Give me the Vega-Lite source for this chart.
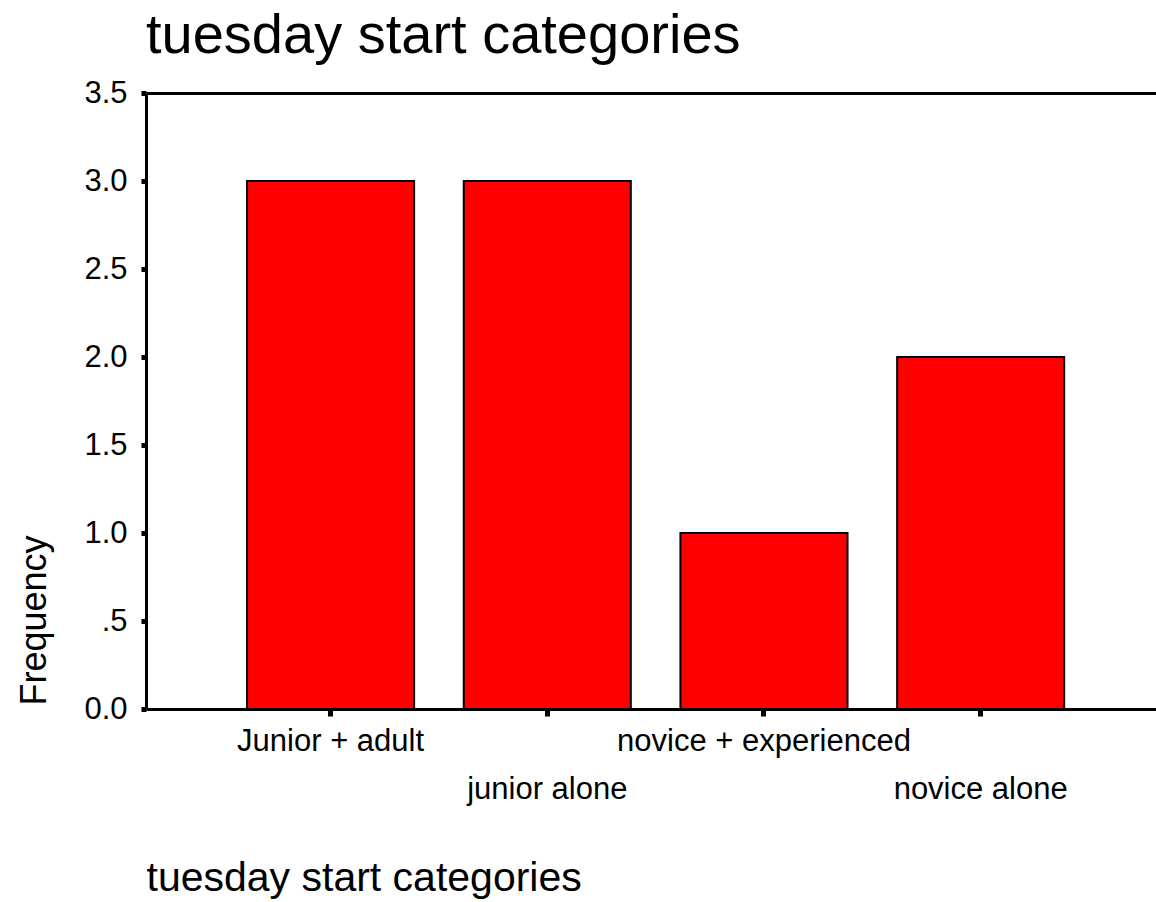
{
  "$schema": "https://vega.github.io/schema/vega-lite/v6.json",
  "autosize": "none",
  "width": 1010,
  "height": 616,
  "padding": {"left": 146, "top": 93, "right": 0, "bottom": 193},
  "background": "white",
  "config": {
    "view": {"stroke": null},
    "font": "Liberation Sans",
    "axis": {"labelFont": "Liberation Sans", "titleFont": "Liberation Sans", "labelColor": "black", "titleColor": "black", "domainColor": "black", "tickColor": "black", "titleFontWeight": "normal", "labelLimit": 0}
  },
  "title": {
    "text": "tuesday start categories",
    "anchor": "start",
    "frame": "group",
    "font": "Liberation Sans",
    "fontSize": 56,
    "fontWeight": "normal",
    "color": "black",
    "baseline": "bottom",
    "offset": 12,
    "dy": 56
  },
  "data": {
    "values": [
      {"category": "Junior + adult", "frequency": 3},
      {"category": "junior alone", "frequency": 3},
      {"category": "novice + experienced", "frequency": 1},
      {"category": "novice alone", "frequency": 2}
    ]
  },
  "mark": {"type": "bar", "color": "#FF0000", "stroke": "black", "strokeWidth": 2},
  "encoding": {
    "x": {
      "field": "category",
      "type": "nominal",
      "sort": null,
      "scale": {"paddingInner": 0.229, "paddingOuter": 0.445, "align": 0.524},
      "axis": {
        "title": "tuesday start categories",
        "titleFontSize": 41,
        "titleAnchor": "start",
        "titleAlign": "left",
        "titleBaseline": "alphabetic",
        "titleX": 0,
        "titleY": 181,
        "labelAngle": 0,
        "labelFontSize": 31,
        "labelBaseline": "alphabetic",
        "labelLineHeight": 48,
        "labelPadding": 34,
        "labelOverlap": false,
        "labelExpr": "(datum.label == 'junior alone' || datum.label == 'novice alone') ? [' ', datum.label] : datum.label",
        "tickSize": 7,
        "tickWidth": 5,
        "domainWidth": 3
      }
    },
    "y": {
      "field": "frequency",
      "type": "quantitative",
      "scale": {"domain": [0, 3.5], "nice": false},
      "axis": {
        "title": "Frequency",
        "titleFontSize": 36,
        "titleAngle": -90,
        "titleAlign": "left",
        "titleBaseline": "alphabetic",
        "titleX": -101,
        "titleY": 612,
        "values": [0, 0.5, 1, 1.5, 2, 2.5, 3, 3.5],
        "labelExpr": "datum.value == 0.5 ? '.5' : format(datum.value, '.1f')",
        "labelFontSize": 31,
        "labelPadding": 14,
        "labelOverlap": false,
        "tickSize": 5,
        "tickWidth": 5,
        "domainWidth": 3,
        "grid": true,
        "gridWidth": 3,
        "gridColor": {"condition": {"test": "datum.value == 3.5", "value": "black"}, "value": "transparent"}
      }
    }
  }
}
